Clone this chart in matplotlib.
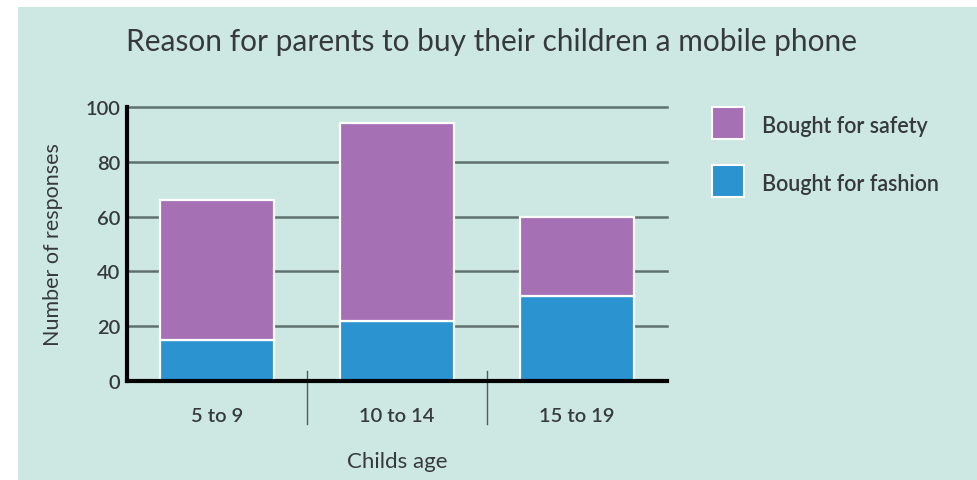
import matplotlib
matplotlib.use("Agg")
import matplotlib.pyplot as plt
from matplotlib.patches import Rectangle

categories = ["5 to 9", "10 to 14", "15 to 19"]
fashion = [15, 22, 31]
safety = [51, 72, 29]
yticks = [0, 20, 40, 60, 80, 100]
series_labels = ["Bought for safety", "Bought for fashion"]

plt.rcParams['font.family'] = ['Lato', 'DejaVu Sans']
TXT = '#363a3a'
BG = '#cde8e3'
PURPLE = '#a570b4'
BLUE = '#2b93d0'
GRID = '#5f716d'

W, H = 977, 481
fig = plt.figure(figsize=(W/100, H/100), dpi=100, facecolor='white')
fig.patches.append(Rectangle((18/W, 0), 1 - 18/W, 1 - 8/H, transform=fig.transFigure,
                             facecolor=BG, edgecolor='none', zorder=-10))

ax = fig.add_axes([127/W, (H-382)/H, 540/W, 274/H])
ax.set_facecolor('none')

x = list(range(len(categories)))
b1 = ax.bar(x, fashion, width=0.635, color=BLUE, edgecolor='white', linewidth=1.6, zorder=3)
b2 = ax.bar(x, safety, width=0.635, bottom=fashion, color=PURPLE, edgecolor='white',
            linewidth=1.6, zorder=3)

ax.set_xlim(-0.5, 2.5)
ax.set_ylim(0, 100)
ax.set_yticks(yticks)
ax.set_yticklabels([str(v) for v in yticks], fontsize=14.5, color=TXT, fontweight='semibold')
for v in yticks[1:]:
    ax.axhline(v, color=GRID, linewidth=1.8, zorder=1, clip_on=False)

ax.set_xticks(x)
ax.set_xticklabels(categories, fontsize=14.5, color=TXT, fontweight='semibold')
ax.tick_params(axis='x', length=0, pad=19)
ax.tick_params(axis='y', length=0, pad=5)

for s in ['top', 'right']:
    ax.spines[s].set_visible(False)
for s in ['left', 'bottom']:
    ax.spines[s].set_linewidth(3)
    ax.spines[s].set_color('black')
    ax.spines[s].set_zorder(5)

trans = ax.get_xaxis_transform()
for sx in [0.5, 1.5]:
    ax.plot([sx, sx], [0.036, -0.157], transform=trans, color='#555b5b',
            linewidth=1, clip_on=False, zorder=4)

ax.set_ylabel('Number of responses', fontsize=15.5, color=TXT)
ax.yaxis.set_label_coords(-0.118, 0.5)
ax.text(0.5, -0.292, 'Childs age', transform=ax.transAxes, ha='center', va='center',
        fontsize=16, color=TXT)

fig.text(492/W, 1 - 42/H, 'Reason for parents to buy their children a mobile phone',
         ha='center', va='center', fontsize=21.5, color=TXT)

# legend
leg_colors = [PURPLE, BLUE]
sq_top = [108, 166]
base = [133, 191]
for c, t, b, lab in zip(leg_colors, sq_top, base, series_labels):
    fig.patches.append(Rectangle((712/W, 1 - (t + 32)/H), 32/W, 32/H,
                                 transform=fig.transFigure, facecolor=c,
                                 edgecolor='white', linewidth=1.5, zorder=3))
    fig.text(762/W, 1 - b/H, lab, ha='left', va='baseline', fontsize=15.5,
             color=TXT, fontweight='semibold')

fig.savefig('out.png', dpi=100, facecolor='white')
